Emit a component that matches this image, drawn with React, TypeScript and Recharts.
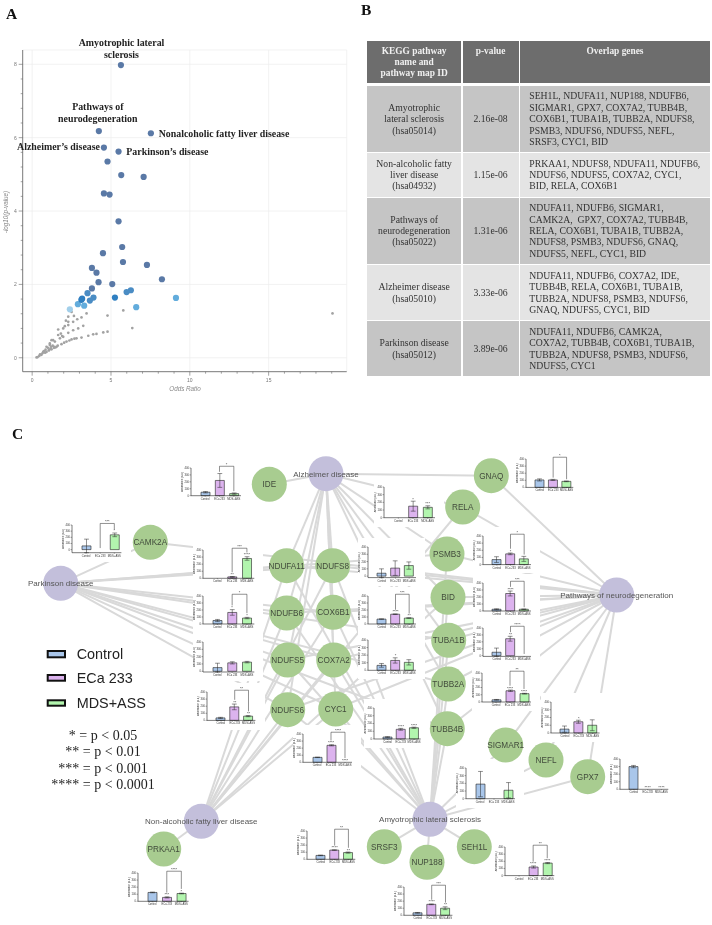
import React from 'react';
import {
  ScatterChart, Scatter, XAxis, YAxis, CartesianGrid, ReferenceLine,
  ComposedChart, Bar, Line, Cell, ErrorBar, LabelList,
} from 'recharts';

/* ---------- Panel A data ---------- */
const darkPoints = [
  { x: 5.63, y: 7.98 }, { x: 4.23, y: 6.18 }, { x: 7.53, y: 6.12 }, { x: 4.55, y: 5.73 }, { x: 5.48, y: 5.62 },
  { x: 4.78, y: 5.35 }, { x: 5.65, y: 4.98 }, { x: 7.07, y: 4.93 }, { x: 4.55, y: 4.48 }, { x: 4.91, y: 4.45 },
  { x: 5.48, y: 3.72 }, { x: 5.71, y: 3.02 }, { x: 4.49, y: 2.85 }, { x: 5.76, y: 2.61 }, { x: 7.28, y: 2.53 },
  { x: 3.79, y: 2.45 }, { x: 4.08, y: 2.32 }, { x: 8.23, y: 2.14 }, { x: 4.21, y: 2.06 }, { x: 5.08, y: 2.01 },
  { x: 3.79, y: 1.89 },
];
const midPoints = [
  { x: 3.51, y: 1.76 }, { x: 6.26, y: 1.84 }, { x: 5.99, y: 1.79 }, { x: 3.89, y: 1.64 }, { x: 3.66, y: 1.56 },
];
const strongPoints = [{ x: 3.17, y: 1.61 }, { x: 3.12, y: 1.58 }, { x: 5.25, y: 1.64 }];
const lightPoints = [{ x: 9.12, y: 1.63 }, { x: 6.6, y: 1.38 }, { x: 2.9, y: 1.46 }, { x: 3.3, y: 1.42 }];
const palestPoints = [{ x: 2.39, y: 1.32 }];
const greyPoints = [
  { x: 0.28, y: 0.01 }, { x: 0.35, y: 0.02 }, { x: 0.45, y: 0.05 }, { x: 0.5, y: 0.09 }, { x: 0.59, y: 0.08 },
  { x: 0.65, y: 0.12 }, { x: 0.75, y: 0.18 }, { x: 0.85, y: 0.22 }, { x: 0.91, y: 0.16 }, { x: 1.0, y: 0.27 },
  { x: 1.05, y: 0.2 }, { x: 1.2, y: 0.3 }, { x: 1.23, y: 0.23 }, { x: 1.3, y: 0.33 }, { x: 1.4, y: 0.3 },
  { x: 1.55, y: 0.3 }, { x: 1.86, y: 0.37 }, { x: 2.18, y: 0.44 }, { x: 2.5, y: 0.5 }, { x: 2.81, y: 0.53 },
  { x: 3.13, y: 0.55 }, { x: 3.56, y: 0.6 }, { x: 3.87, y: 0.64 }, { x: 4.08, y: 0.65 }, { x: 4.51, y: 0.69 },
  { x: 4.78, y: 0.71 }, { x: 0.7, y: 0.16 }, { x: 1.12, y: 0.35 }, { x: 1.44, y: 0.44 }, { x: 1.76, y: 0.53 },
  { x: 1.97, y: 0.57 }, { x: 2.29, y: 0.68 }, { x: 2.6, y: 0.75 }, { x: 2.92, y: 0.8 }, { x: 3.24, y: 0.87 },
  { x: 0.91, y: 0.3 }, { x: 1.12, y: 0.39 }, { x: 1.33, y: 0.48 }, { x: 1.65, y: 0.62 }, { x: 1.97, y: 0.8 },
  { x: 2.29, y: 0.89 }, { x: 2.6, y: 0.98 }, { x: 2.86, y: 1.05 }, { x: 3.13, y: 1.1 }, { x: 3.45, y: 1.21 },
  { x: 2.5, y: 1.25 }, { x: 2.65, y: 1.14 }, { x: 2.29, y: 1.12 }, { x: 2.14, y: 1.01 }, { x: 2.29, y: 0.98 },
  { x: 1.65, y: 0.77 }, { x: 1.82, y: 0.66 }, { x: 1.23, y: 0.48 }, { x: 2.07, y: 0.86 },
  { x: 1.48, y: 0.28 }, { x: 1.62, y: 0.33 }, { x: 2.03, y: 0.41 }, { x: 2.36, y: 0.47 }, { x: 2.68, y: 0.52 },
  { x: 1.08, y: 0.21 }, { x: 1.16, y: 0.25 }, { x: 0.82, y: 0.14 }, { x: 1.38, y: 0.27 }, { x: 1.9, y: 0.59 },
  { x: 19.05, y: 1.21 }, { x: 5.78, y: 1.29 }, { x: 4.78, y: 1.15 }, { x: 6.35, y: 0.81 },
];
const oddsMajorTicks = [0, 5, 10, 15];
const oddsTicks = [0, 1, 2, 3, 4, 5, 6, 7, 8, 9, 10, 11, 12, 13, 14, 15, 16, 17, 18, 19];
const logMajorTicks = [0, 2, 4, 6, 8];
const logTicks = [0, 0.4, 0.8, 1.2, 1.6, 2, 2.4, 2.8, 3.2, 3.6, 4, 4.4, 4.8, 5.2, 5.6, 6, 6.4, 6.8, 7.2, 7.6, 8];

/* ---------- Panel B data ---------- */
const tableHeader = [['KEGG pathway', 'name and', 'pathway map ID'], ['p-value'], ['Overlap genes']];
const pathwayCells = [
  ['Amyotrophic', 'lateral sclerosis', '(hsa05014)'],
  ['Non-alcoholic fatty', 'liver disease', '(hsa04932)'],
  ['Pathways of', 'neurodegeneration', '(hsa05022)'],
  ['Alzheimer disease', '(hsa05010)'],
  ['Parkinson disease', '(hsa05012)'],
];
const pValues = ['2.16e-08', '1.15e-06', '1.31e-06', '3.33e-06', '3.89e-06'];
const overlapLines = [
  ['SEH1L, NDUFA11, NUP188, NDUFB6,', 'SIGMAR1, GPX7, COX7A2, TUBB4B,', 'COX6B1, TUBA1B, TUBB2A, NDUFS8,', 'PSMB3, NDUFS6, NDUFS5, NEFL,', 'SRSF3, CYC1, BID'],
  ['PRKAA1, NDUFS8, NDUFA11, NDUFB6,', 'NDUFS6, NDUFS5, COX7A2, CYC1,', 'BID, RELA, COX6B1'],
  ['NDUFA11, NDUFB6, SIGMAR1,', 'CAMK2A,  GPX7, COX7A2, TUBB4B,', 'RELA, COX6B1, TUBA1B, TUBB2A,', 'NDUFS8, PSMB3, NDUFS6, GNAQ,', 'NDUFS5, NEFL, CYC1, BID'],
  ['NDUFA11, NDUFB6, COX7A2, IDE,', 'TUBB4B, RELA, COX6B1, TUBA1B,', 'TUBB2A, NDUFS8, PSMB3, NDUFS6,', 'GNAQ, NDUFS5, CYC1, BID'],
  ['NDUFA11, NDUFB6, CAMK2A,', 'COX7A2, TUBB4B, COX6B1, TUBA1B,', 'TUBB2A, NDUFS8, PSMB3, NDUFS6,', 'NDUFS5, CYC1'],
];
const rowTops = [86, 153, 197.5, 265, 321];
const rowHeights = [66, 43.5, 66.5, 55, 55];

/* ---------- Panel C data ---------- */
const diseaseNames = [
  'Amyotrophic lateral sclerosis', 'Non-alcoholic fatty liver disease', 'Pathways of neurodegeneration',
  'Alzheimer disease', 'Parkinson disease',
];
const diseaseNodes = [
  { name: 'Amyotrophic lateral sclerosis', x: 430, y: 819.3 },
  { name: 'Non-alcoholic fatty liver disease', x: 201.3, y: 821.3 },
  { name: 'Pathways of neurodegeneration', x: 616.7, y: 595 },
  { name: 'Alzheimer disease', x: 326, y: 473.7 },
  { name: 'Parkinson disease', x: 60.7, y: 583.3 },
];
const geneNodes = [
  { name: 'CAMK2A', x: 150.3, y: 542.3 }, { name: 'IDE', x: 269.3, y: 484.3 }, { name: 'NDUFA11', x: 286.7, y: 565.7 },
  { name: 'NDUFS8', x: 332.7, y: 565.7 }, { name: 'NDUFB6', x: 286.7, y: 613 }, { name: 'COX6B1', x: 333.3, y: 612.3 },
  { name: 'NDUFS5', x: 287.7, y: 660 }, { name: 'COX7A2', x: 333.7, y: 660 }, { name: 'NDUFS6', x: 287.7, y: 709.7 },
  { name: 'CYC1', x: 335.7, y: 709 }, { name: 'GNAQ', x: 491.3, y: 475.7 }, { name: 'RELA', x: 462.7, y: 507 },
  { name: 'PSMB3', x: 447, y: 554 }, { name: 'BID', x: 448, y: 597.3 }, { name: 'TUBA1B', x: 448.7, y: 640.3 },
  { name: 'TUBB2A', x: 448.3, y: 684 }, { name: 'TUBB4B', x: 447.3, y: 728.7 }, { name: 'SIGMAR1', x: 505.7, y: 745 },
  { name: 'NEFL', x: 546, y: 760 }, { name: 'GPX7', x: 587.7, y: 776.7 }, { name: 'SRSF3', x: 384.3, y: 846.7 },
  { name: 'SEH1L', x: 474.3, y: 846.7 }, { name: 'NUP188', x: 427, y: 862.3 }, { name: 'PRKAA1', x: 163.7, y: 849 },
];

const groups = ['Control', 'ECa 233', 'MDS+ASS'];
const groupColors = ['#a9c6ea', '#dcb3ee', '#b2f5ae'];
const miniGenes = ['IDE', 'CAMK2A', 'NDUFA11', 'NDUFB6', 'NDUFS5', 'NDUFS8', 'COX6B1', 'COX7A2', 'RELA', 'GNAQ', 'PSMB3', 'BID', 'TUBA1B', 'TUBB2A', 'NDUFS6', 'CYC1', 'TUBB4B', 'SRSF3', 'PRKAA1', 'SIGMAR1', 'NEFL', 'GPX7', 'SEH1L', 'NUP188'];
const miniMeans = [
  [50, 220, 30], [60, 0, 240], [0, 20, 280], [50, 165, 85], [50, 115, 125], [40, 110, 145], [70, 140, 85], [65, 130, 105],
  [0, 150, 135], [105, 105, 85], [70, 150, 80], [25, 250, 25], [50, 245, 0], [30, 155, 115], [35, 190, 60], [70, 240, 0],
  [25, 125, 145], [55, 130, 95], [125, 55, 110], [50, 145, 100], [190, 0, 110], [300, 0, 0], [0, 120, 175], [35, 155, 100],
];
const miniErrors = [
  [10, 100, 10], [110, 0, 30], [0, 5, 25], [15, 40, 10], [60, 15, 10], [60, 100, 50], [3, 4, 4], [25, 35, 35],
  [0, 65, 20], [15, 8, 5], [40, 12, 35], [6, 35, 4], [60, 35, 0], [5, 10, 5], [8, 40, 8], [3, 8, 0],
  [5, 12, 8], [4, 4, 8], [5, 8, 5], [40, 20, 70], [165, 0, 100], [15, 0, 0], [0, 15, 8], [5, 5, 20],
];
const miniStars = [
  ['', '', ''], ['', '', '*'], ['', '**', '****'], ['', '*', '*'], ['', '', ''], ['', '', ''], ['', '****', '**'], ['', '*', ''],
  ['', '*', '***'], ['', '', ''], ['', '*', ''], ['', '****', ''], ['', '**', ''], ['', '****', '****'], ['', '**', '**'], ['', '****', '****'],
  ['', '****', '****'], ['', '****', '**'], ['', '***', '*'], ['', '*', ''], ['', '', ''], ['', '****', '****'], ['', '****', '****'], ['', '****', '**'],
];
const miniBrackets = ['*', '***', '***', '*', '', '', '***', '', '', '*', '*', '***', '****', '**', '**', '****', '', '**', '****', '', '', '', '**', '***'];
/* axis x, top of axis, baseline, right end of axis */
const miniFrames = [
  [191, 468.3, 496, 241], [72.3, 525, 552.7, 121.7], [202.7, 550, 578.3, 254], [202.7, 595.7, 623.7, 254],
  [202.7, 641.7, 671.7, 254], [367.7, 546.7, 577.3, 415.7], [367.7, 595.7, 623.7, 415.7], [367.7, 640, 670.3, 415.7],
  [384, 487.3, 518, 435], [525.7, 459.3, 487.7, 573], [482.7, 535.7, 564.3, 530.7], [482.7, 583, 611, 530.7],
  [482.7, 628.3, 656.7, 530.7], [481.7, 673.3, 702.3, 530.7], [207.3, 692.3, 720.7, 255.7], [302.7, 734, 762.3, 351.7],
  [374, 708.3, 739.3, 420.7], [306.7, 830.7, 859, 355], [137.7, 872.7, 901, 188.3], [550.7, 702.3, 733.3, 599.3],
  [466, 768.3, 799, 515], [620, 759, 789.3, 668.3], [505, 846.7, 875.3, 554.3], [404.3, 887, 915.3, 452.7],
];
const legendLabels = ['Control', 'ECa 233', 'MDS+ASS'];
const pLegend = ['* = p < 0.05', '** = p < 0.01', '*** = p < 0.001', '**** = p < 0.0001'];

const SERIF = '"Liberation Serif", serif';
const SANS = '"Liberation Sans", sans-serif';

/* ---------- Panel A ---------- */
const dot = (r: number, fill: string) => (p: any) => <circle cx={p.cx} cy={p.cy} r={r} fill={fill} />;

const XTick = (p: any) => {
  const major = oddsMajorTicks.includes(p.payload.value);
  return (
    <g>
      <line x1={p.x} x2={p.x} y1={p.y} y2={p.y + (major ? 4 : 2)} stroke="#666" strokeWidth={0.6} />
      {major && <text x={p.x} y={p.y + 10} fontSize={5} fontFamily={SANS} fill="#777" textAnchor="middle">{p.payload.value}</text>}
    </g>
  );
};
const YTick = (p: any) => {
  const major = logMajorTicks.includes(p.payload.value);
  return (
    <g>
      <line x1={p.x} x2={p.x - (major ? 4 : 2)} y1={p.y} y2={p.y} stroke="#666" strokeWidth={0.6} />
      {major && <text x={p.x - 6} y={p.y + 2} fontSize={5} fontFamily={SANS} fill="#777" textAnchor="end">{p.payload.value}</text>}
    </g>
  );
};

const PanelA = () => (
  <div style={{ position: 'absolute', left: 0, top: 0 }}>
    <ScatterChart width={356} height={400} margin={{ top: 50, right: 9.3, bottom: 0, left: 0 }}>
      <CartesianGrid stroke="#ececec" strokeWidth={0.7} verticalValues={[...oddsMajorTicks, 19.95]} horizontalValues={[...logMajorTicks, 8.39]} />
      <XAxis type="number" dataKey="x" domain={[-0.6, 19.95]} ticks={oddsTicks} interval={0} height={28.3} tick={<XTick />} tickLine={false} tickSize={0} tickMargin={0} axisLine={{ stroke: '#555', strokeWidth: 0.8 }} />
      <YAxis type="number" dataKey="y" domain={[-0.38, 8.39]} ticks={logTicks} interval={0} width={22.7} tick={<YTick />} tickLine={false} tickSize={0} tickMargin={0} axisLine={{ stroke: '#555', strokeWidth: 0.8 }} />
      <Scatter data={greyPoints} shape={dot(1.35, '#a2a2a2')} isAnimationActive={false} />
      <Scatter data={palestPoints} shape={dot(3.1, '#a2cfea')} isAnimationActive={false} />
      <Scatter data={lightPoints} shape={dot(3.1, '#62acdc')} isAnimationActive={false} />
      <Scatter data={midPoints} shape={dot(3.1, '#4a8cc4')} isAnimationActive={false} />
      <Scatter data={strongPoints} shape={dot(3.1, '#2f7fc1')} isAnimationActive={false} />
      <Scatter data={darkPoints} shape={dot(3.1, '#5a79a6')} isAnimationActive={false} />
    </ScatterChart>
  </div>
);

/* ---------- Panel B ---------- */
const Cell2 = ({ left, top, width, height, bg, lines, color, bold, align, valign, pad }: any) => (
  <div style={{
    position: 'absolute', left, top, width, height, background: bg, color, fontWeight: bold ? 700 : 400,
    fontFamily: SERIF, fontSize: bold ? 9.4 : 9.7, lineHeight: '11.45px', display: 'flex', flexDirection: 'column',
    justifyContent: valign, textAlign: align, paddingLeft: pad ?? 0, paddingTop: valign === 'flex-start' ? 5 : 0, boxSizing: 'border-box', whiteSpace: 'pre',
  }}>
    {lines.map((l: string, i: number) => <div key={i}>{l}</div>)}
  </div>
);

const colLefts = [367.3, 462.6, 520];
const colWidths = [93.7, 56, 190];

const PanelB = () => (
  <div>
    {tableHeader.map((lines, i) => (
      <Cell2 key={i} left={colLefts[i]} top={40.5} width={colWidths[i]} height={42.5} bg="#6d6d6d" lines={lines} color="#f0f0f0" bold align="center" valign="flex-start" />
    ))}
    {pathwayCells.map((lines, r) => {
      const bg = r % 2 === 0 ? '#c5c5c5' : '#e4e4e4';
      const top = rowTops[r], height = rowHeights[r];
      return (
        <React.Fragment key={r}>
          <Cell2 left={colLefts[0]} top={top} width={colWidths[0]} height={height} bg={bg} lines={lines} color="#333" align="center" valign="center" />
          <Cell2 left={colLefts[1]} top={top} width={colWidths[1]} height={height} bg={bg} lines={[pValues[r]]} color="#333" align="center" valign="center" />
          <Cell2 left={colLefts[2]} top={top} width={colWidths[2]} height={height} bg={bg} lines={overlapLines[r]} color="#333" align="left" valign="center" pad={9.3} />
        </React.Fragment>
      );
    })}
  </div>
);

/* ---------- Panel C ---------- */
const nodeByName = (n: string) => [...geneNodes, ...diseaseNodes].find((d) => d.name === n);
const edges = diseaseNames.flatMap((d, i) => {
  const from = nodeByName(d)!;
  const genes = overlapLines[i].join(' ').split(',').map((s) => s.trim()).filter(Boolean);
  return genes.map((g) => ({ from, to: nodeByName(g)! })).filter((e) => e.to);
});

const noMark = () => <g />;

const NetworkEdges = () => (
  <div style={{ position: 'absolute', left: 0, top: 0 }}>
    <ScatterChart width={712} height={925} margin={{ top: 0, right: 0, bottom: 0, left: 0 }}>
      <XAxis type="number" dataKey="x" domain={[0, 712]} hide />
      <YAxis type="number" dataKey="y" domain={[0, 925]} reversed hide />
      {edges.map((e, i) => (
        <Scatter key={i} data={[e.from, e.to]} line={{ stroke: '#d9d9d9', strokeWidth: 2 }} shape={noMark} isAnimationActive={false} />
      ))}
    </ScatterChart>
  </div>
);

const nodeShape = (r: number, fill: string, size: number, ink: string) => (p: any) => (
  <g>
    <circle cx={p.cx} cy={p.cy} r={r} fill={fill} />
    <text x={p.cx} y={p.cy} dy="0.35em" textAnchor="middle" fontSize={size} fontFamily={SANS} fill={ink}>{p.payload.name}</text>
  </g>
);

const NetworkNodes = () => (
  <div style={{ position: 'absolute', left: 0, top: 0, pointerEvents: 'none' }}>
    <ScatterChart width={712} height={925} margin={{ top: 0, right: 0, bottom: 0, left: 0 }}>
      <XAxis type="number" dataKey="x" domain={[0, 712]} hide />
      <YAxis type="number" dataKey="y" domain={[0, 925]} reversed hide />
      <Scatter data={diseaseNodes} shape={nodeShape(17.5, '#c3bfdb', 8, '#555')} isAnimationActive={false} />
      <Scatter data={geneNodes} shape={nodeShape(17.5, '#a8cc90', 8.2, '#424c3c')} isAnimationActive={false} />
    </ScatterChart>
  </div>
);

const MiniXTick = (p: any) => (
  <text x={p.x} y={p.y + 2.5} fontSize={2.7} fontFamily={SANS} fill="#333" textAnchor="middle">{p.payload.value}</text>
);

const MiniChart = ({ index }: { index: number }) => {
  const [axis, top, base, right] = miniFrames[index];
  const means = miniMeans[index], errs = miniErrors[index], stars = miniStars[index];
  const data = groups.map((g, i) => ({ g, mean: means[i], err: errs[i], mark: means[i] + errs[i], star: stars[i] }));
  const br = miniBrackets[index];
  const topM = 9, leftW = 10, rightM = 9, xH = 9;
  const H = base - top;
  const legBottom = (i: number) => Math.min(390, means[i] + errs[i] + (stars[i] ? 60 : 25));
  return (
    <div style={{ position: 'absolute', left: axis - leftW, top: top - topM, background: '#fff' }}>
      <ComposedChart width={right - axis + leftW + rightM} height={H + topM + xH} data={data} margin={{ top: topM, right: rightM, bottom: 0, left: 0 }} barCategoryGap={0}>
        <XAxis dataKey="g" type="category" height={xH} interval={0} padding={{ left: 7, right: 0 }} tick={<MiniXTick />} tickSize={1} tickMargin={0.5} tickLine={{ stroke: '#222', strokeWidth: 0.4 }} axisLine={{ stroke: '#222', strokeWidth: 0.6 }} />
        <YAxis type="number" domain={[0, 400]} ticks={[0, 100, 200, 300, 400]} interval={0} width={leftW} tick={{ fontSize: 2.7, fill: '#333', fontFamily: SANS }} tickSize={1.5} tickMargin={0.5} tickLine={{ stroke: '#222', strokeWidth: 0.4 }} axisLine={{ stroke: '#222', strokeWidth: 0.6 }}
          label={{ value: 'Abundance (a.u.)', angle: -90, position: 'insideLeft', offset: 1, fontSize: 2.6, fill: '#333', fontFamily: SANS, style: { textAnchor: 'middle' } }} />
        <Bar dataKey="mean" barSize={9} stroke="#222" strokeWidth={0.6} isAnimationActive={false}>
          {data.map((_, i) => <Cell key={i} fill={groupColors[i]} />)}
          <ErrorBar dataKey="err" width={2.4} stroke="#222" strokeWidth={0.5} isAnimationActive={false} />
        </Bar>
        <Line dataKey="mark" stroke="none" dot={false} activeDot={false} isAnimationActive={false}>
          <LabelList dataKey="star" position="top" offset={0.5} fontSize={4} fill="#333" fontFamily={SANS} />
        </Line>
        {br && (
          <>
            <ReferenceLine ifOverflow="visible" segment={[{ x: groups[1], y: legBottom(1) }, { x: groups[1], y: 425 }]} stroke="#222" strokeWidth={0.5} />
            <ReferenceLine ifOverflow="visible" segment={[{ x: groups[2], y: legBottom(2) }, { x: groups[2], y: 425 }]} stroke="#222" strokeWidth={0.5} />
            <ReferenceLine ifOverflow="visible" segment={[{ x: groups[1], y: 425 }, { x: groups[2], y: 425 }]} stroke="#222" strokeWidth={0.5}
              label={{ value: br, position: 'top', offset: 0.5, fontSize: 4, fill: '#333', fontFamily: SANS }} />
          </>
        )}
      </ComposedChart>
    </div>
  );
};

/* ---------- Texts that sit on top ---------- */
const Overlay = () => (
  <svg width={712} height={925} style={{ position: 'absolute', left: 0, top: 0, pointerEvents: 'none' }}>
    <g fontFamily={SERIF} fontWeight={700} fontSize={15.5} fill="#111">
      <text x={6} y={18.5}>A</text>
      <text x={361} y={15}>B</text>
      <text x={12} y={439}>C</text>
    </g>
    <g fontFamily={SERIF} fontWeight={700} fontSize={9.9} fill="#222" dominantBaseline="central">
      <text x={121.5} y={42.7} textAnchor="middle">Amyotrophic lateral</text>
      <text x={121.5} y={54.5} textAnchor="middle">sclerosis</text>
      <text x={97.8} y={106.7} textAnchor="middle">Pathways of</text>
      <text x={97.8} y={118.7} textAnchor="middle">neurodegeneration</text>
      <text x={158.7} y={133.7}>Nonalcoholic fatty liver disease</text>
      <text x={100} y={146.7} textAnchor="end">Alzheimer’s disease</text>
      <text x={126.3} y={151}>Parkinson’s disease</text>
    </g>
    <text x={185} y={391} textAnchor="middle" fontFamily={SANS} fontStyle="italic" fontSize={6.3} fill="#888">Odds Ratio</text>
    <text transform="translate(8,212) rotate(-90)" textAnchor="middle" fontFamily={SANS} fontStyle="italic" fontSize={6.3} fill="#888">-log10(p-value)</text>
    {legendLabels.map((l, i) => (
      <g key={l}>
        <rect x={47.7} y={[651, 675, 700.3][i]} width={17.3} height={[6.3, 5.7, 5.4][i]} fill={groupColors[i]} stroke="#111" strokeWidth={2} />
        <text x={76.7} y={[654, 678, 702.7][i]} dominantBaseline="central" fontFamily={SANS} fontSize={14.4} fill="#222">{l}</text>
      </g>
    ))}
    {pLegend.map((l, i) => (
      <text key={l} x={103} y={[735, 751.5, 768, 784][i]} dominantBaseline="central" textAnchor="middle" fontFamily={SERIF} fontSize={14} fill="#222">{l}</text>
    ))}
  </svg>
);

export default function App() {
  return (
    <div style={{ position: 'absolute', left: 0, top: 0, width: 712, height: 925, background: '#fff', overflow: 'hidden', filter: 'blur(0.3px)' }}>
      <NetworkEdges />
      {miniGenes.map((g, i) => <MiniChart key={g} index={i} />)}
      <NetworkNodes />
      <PanelA />
      <PanelB />
      <Overlay />
    </div>
  );
}
